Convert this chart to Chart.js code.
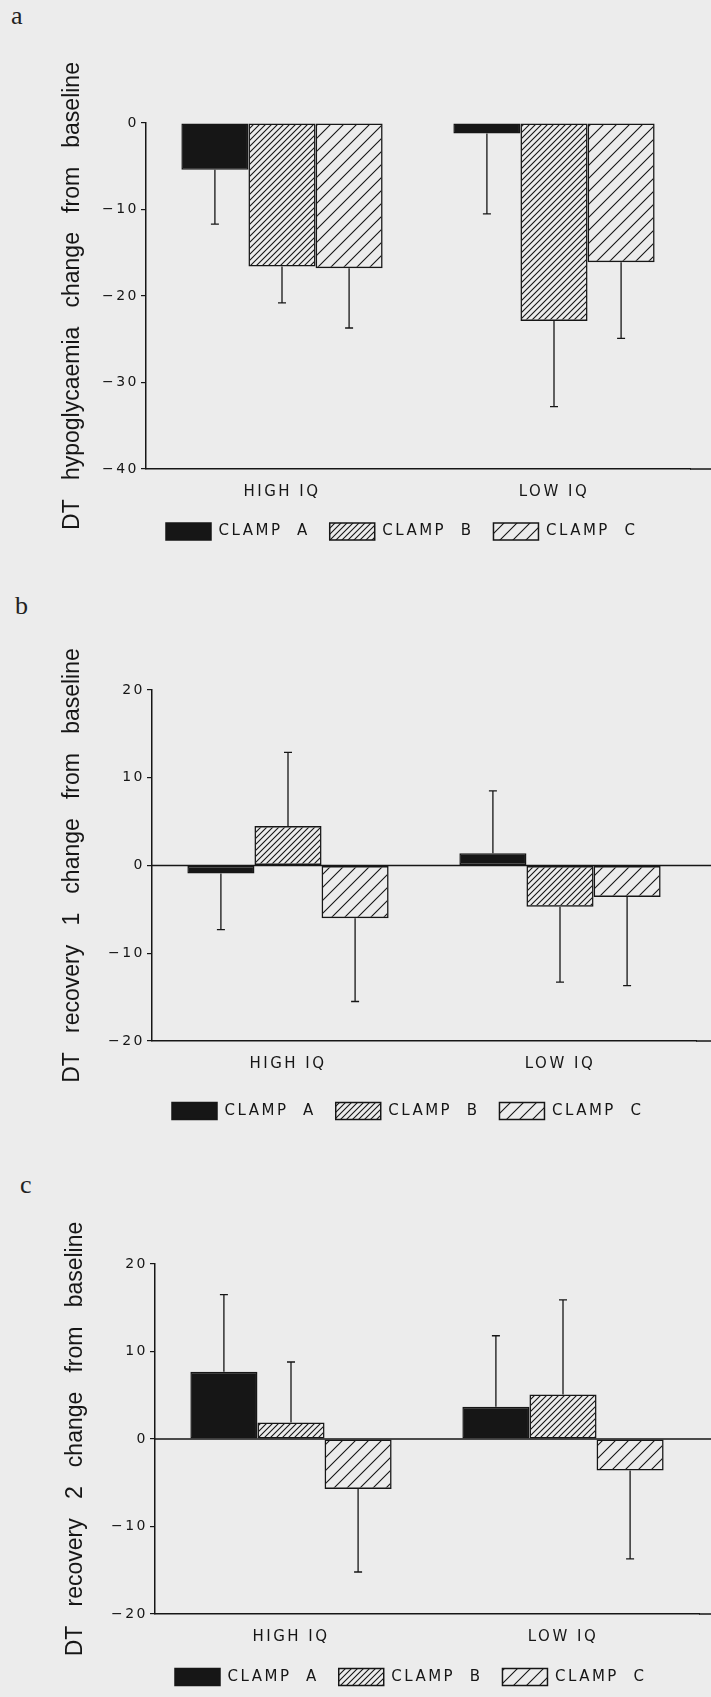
<!DOCTYPE html>
<html>
<head>
<meta charset="utf-8">
<script src="https://cdn.jsdelivr.net/npm/chart.js@4"></script>
<style>
  html, body { margin: 0; padding: 0; background: #ececec; overflow: hidden; width: 711px; height: 1697px; }
  .panel { position: absolute; left: 0; width: 711px; }
  .tag { position: absolute; font-family: "Liberation Serif", serif; font-size: 26px; line-height: 26px; color: #222; }
</style>
</head>
<body>
<div class="tag" style="left:11px; top:3px">a</div>
<div class="tag" style="left:15px; top:593px">b</div>
<div class="tag" style="left:20px; top:1172px">c</div>
<div class="panel" style="top:0px"><canvas id="chart_a" width="711" height="560"></canvas></div>
<div class="panel" style="top:560px"><canvas id="chart_b" width="711" height="580"></canvas></div>
<div class="panel" style="top:1120px"><canvas id="chart_c" width="711" height="577"></canvas></div>
<script>
var ink = '#161616';
var plotFont = '"DejaVu Sans", sans-serif';

var groups = ['HIGH IQ', 'LOW IQ'];
var clampLabels = ['CLAMP  A', 'CLAMP  B', 'CLAMP  C'];

// a - hypoglycaemia
var hypoA = [-5.4, -1.2];
var hypoB = [-16.6, -22.9];
var hypoC = [-16.8, -16.1];
var hypoErrA = [6.3, 9.3];
var hypoErrB = [4.2, 9.9];
var hypoErrC = [6.9, 8.8];

// b - recovery 1
var rec1A = [-0.9, 1.4];
var rec1B = [4.5, -4.7];
var rec1C = [-6.0, -3.6];
var rec1ErrA = [6.4, 7.1];
var rec1ErrB = [8.4, 8.6];
var rec1ErrC = [9.5, 10.1];

// c - recovery 2
var rec2A = [7.7, 3.7];
var rec2B = [1.9, 5.1];
var rec2C = [-5.7, -3.6];
var rec2ErrA = [8.8, 8.1];
var rec2ErrB = [6.9, 10.8];
var rec2ErrC = [9.5, 10.1];

var hypoRange = [-40, 0];
var recRange = [-20, 20];
var tickStep = 10;

var hypoTitle = 'DT   hypoglycaemia   change   from   baseline';
var rec1Title = 'DT   recovery   1   change   from   baseline';
var rec2Title = 'DT   recovery   2   change   from   baseline';

var legendGap = 20;
var legendBoxH = 17;
var titleSize = 23;

function hatch(gap, width) {
  var c = document.createElement('canvas');
  c.width = gap;
  c.height = gap;
  var g = c.getContext('2d');
  g.strokeStyle = ink;
  g.lineWidth = width;
  g.beginPath();
  g.moveTo(-1, gap + 1); g.lineTo(gap + 1, -1);
  g.moveTo(-1, 1); g.lineTo(1, -1);
  g.moveTo(gap - 1, gap + 1); g.lineTo(gap + 1, gap - 1);
  g.stroke();
  return g.createPattern(c, 'repeat');
}

// the plotter lettering is wide: space out ticks, categories and legend,
// the y title is drawn later (grid layer z:1) with normal spacing
var plotterLetters = {
  id: 'plotterLetters',
  beforeDraw: function (chart) { chart.ctx.letterSpacing = '2.5px'; },
  afterDatasetsDraw: function (chart) { chart.ctx.letterSpacing = '0px'; }
};

// zero line across the plot and the base axis run out to the page edge
var baseLines = {
  id: 'baseLines',
  beforeDatasetsDraw: function (chart) {
    var ctx = chart.ctx, a = chart.chartArea, y = chart.scales.y;
    ctx.save();
    ctx.strokeStyle = ink;
    ctx.lineWidth = 1.5;
    ctx.beginPath();
    ctx.moveTo(a.right, a.bottom);
    ctx.lineTo(chart.width, a.bottom);
    if (y.min < 0 && y.max > 0) {
      var y0 = y.getPixelForValue(0);
      ctx.moveTo(a.left, y0);
      ctx.lineTo(chart.width, y0);
    }
    ctx.stroke();
    ctx.restore();
  }
};

// one-sided error bars, pointing away from zero
var errorBars = {
  id: 'errorBars',
  afterDatasetsDraw: function (chart) {
    var ctx = chart.ctx, y = chart.scales.y;
    ctx.save();
    ctx.strokeStyle = ink;
    ctx.lineWidth = 1.3;
    chart.data.datasets.forEach(function (ds, i) {
      chart.getDatasetMeta(i).data.forEach(function (bar, j) {
        var v = ds.data[j];
        var end = v < 0 ? v - ds.errors[j] : v + ds.errors[j];
        var y0 = y.getPixelForValue(v), y1 = y.getPixelForValue(end);
        ctx.beginPath();
        ctx.moveTo(bar.x, y0);
        ctx.lineTo(bar.x, y1);
        ctx.moveTo(bar.x - 4, y1);
        ctx.lineTo(bar.x + 4, y1);
        ctx.stroke();
      });
    });
    ctx.restore();
  }
};

function drawPanel(id, title, range, values, errors, box) {
  var fills = [ink, hatch(6, 1.1), hatch(13, 1.1)];
  var datasets = values.map(function (v, i) {
    return {
      label: clampLabels[i],
      data: v,
      errors: errors[i],
      backgroundColor: fills[i],
      borderColor: ink,
      borderWidth: 1.5,
      borderSkipped: false,
      barPercentage: 1,
      categoryPercentage: 0.74
    };
  });

  var xHeight = box.legendY - box.bottom - legendGap - legendBoxH / 2;
  var legendHeight = legendBoxH + legendGap + 10;
  var padBottom = box.height - box.bottom - xHeight - legendHeight;

  return new Chart(document.getElementById(id), {
    type: 'bar',
    data: { labels: groups, datasets: datasets },
    plugins: [plotterLetters, baseLines, errorBars],
    options: {
      responsive: false,
      animation: false,
      devicePixelRatio: 1,
      layout: {
        padding: { left: 0, right: 711 - (box.axisX + 544), top: box.top, bottom: padBottom }
      },
      scales: {
        x: {
          grid: { display: false, drawTicks: false },
          border: { color: ink, width: 1.5 },
          ticks: { color: ink, padding: 14.5, maxRotation: 0, font: { family: plotFont, size: 15 } },
          afterFit: function (s) { s.height = xHeight; }
        },
        y: {
          min: range[0],
          max: range[1],
          ticks: {
            stepSize: tickStep,
            color: ink,
            padding: 2,
            font: { family: plotFont, size: 14 },
            callback: function (v) { return String(v).replace('-', '\u2212'); }
          },
          grid: { z: 1, drawOnChartArea: false, drawTicks: true, tickLength: 5, color: ink, lineWidth: 1.2 },
          border: { z: 1, color: ink, width: 1.5 },
          title: {
            display: true,
            text: title,
            color: ink,
            font: { family: '"Liberation Sans", Arial, sans-serif', size: titleSize },
            padding: { top: box.titleX - titleSize * 0.6, bottom: 0 }
          },
          afterFit: function (s) { s.width = box.axisX; }
        }
      },
      plugins: {
        tooltip: { enabled: false },
        legend: {
          position: 'bottom',
          align: 'start',
          fullSize: false,
          labels: {
            boxWidth: 45,
            boxHeight: legendBoxH,
            padding: legendGap,
            color: ink,
            font: { family: plotFont, size: 15 }
          }
        }
      }
    }
  });
}

drawPanel('chart_a', hypoTitle, hypoRange,
  [hypoA, hypoB, hypoC], [hypoErrA, hypoErrB, hypoErrC],
  { top: 123, bottom: 469, axisX: 146, legendY: 531.5, titleX: 73, height: 560 });

drawPanel('chart_b', rec1Title, recRange,
  [rec1A, rec1B, rec1C], [rec1ErrA, rec1ErrB, rec1ErrC],
  { top: 130, bottom: 481, axisX: 152, legendY: 551, titleX: 73, height: 580 });

drawPanel('chart_c', rec2Title, recRange,
  [rec2A, rec2B, rec2C], [rec2ErrA, rec2ErrB, rec2ErrC],
  { top: 144, bottom: 494, axisX: 155, legendY: 557, titleX: 76, height: 577 });
</script>
</body>
</html>
